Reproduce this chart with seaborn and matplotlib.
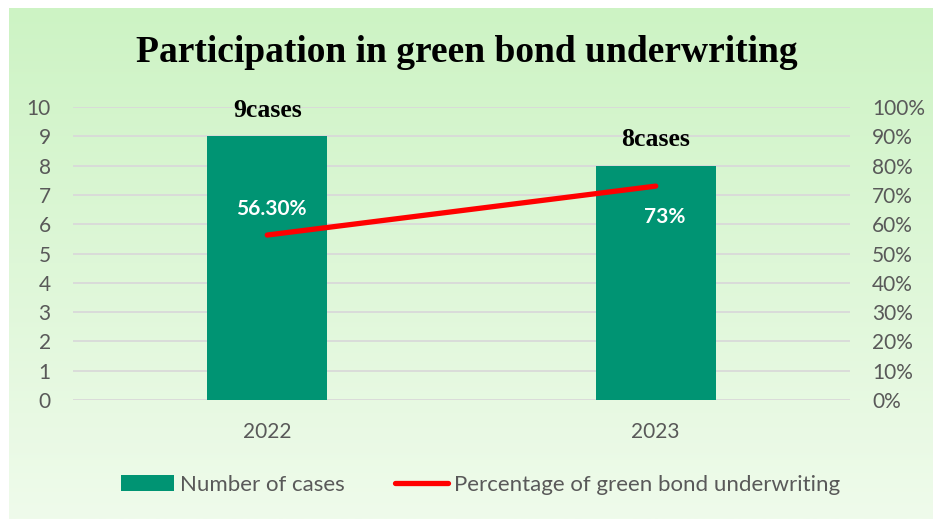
import numpy as np
import pandas as pd
import matplotlib
matplotlib.use("Agg")
import matplotlib.pyplot as plt
import seaborn as sns
from matplotlib.patches import Patch
from matplotlib.lines import Line2D

# chart data
years = ["2022", "2023"]
cases = [9, 8]
pct = [56.3, 73.0]
case_labels = ["9cases", "8cases"]
pct_labels = ["56.30%", "73%"]

BAR = "#009473"
RED = "#FF0000"
GRAY = "#595959"

sns.set_theme(style="white")
plt.rcParams["font.family"] = ["Lato", "DejaVu Sans"]

fig = plt.figure(figsize=(9.33, 5.19), dpi=100)
fig.patch.set_facecolor("white")

# gradient background panel
bg = fig.add_axes([9 / 933, 0, 1 - 9 / 933, 1 - 8 / 519])
grad = np.linspace(0, 1, 256).reshape(-1, 1)
top = np.array([0xCD, 0xF3, 0xC4]) / 255
bot = np.array([0xEF, 0xFB, 0xEB]) / 255
img = top + (bot - top) * grad[:, :, None]
bg.imshow(img, aspect="auto", extent=[0, 1, 0, 1])
bg.set_axis_off()

left, right = 73 / 933, 850 / 933
bottom, topy = 1 - 400 / 519, 1 - 107 / 519
ax = fig.add_axes([left, bottom, right - left, topy - bottom])
ax.patch.set_alpha(0)

df = pd.DataFrame({"year": years, "cases": cases, "pct": pct})
sns.barplot(data=df, x="year", y="cases", color=BAR, width=0.31,
            saturation=1, linewidth=0, ax=ax, zorder=2)
ax.set_ylim(0, 10)
ax.set_xlim(-0.5, 1.5)
ax.set_yticks(range(0, 11))
ax.yaxis.grid(True, color="#D9D9D9", linewidth=1.3, zorder=0)
ax.set_axisbelow(True)
for s in ax.spines.values():
    s.set_visible(False)
ax.set_xlabel("")
ax.set_ylabel("")
ax.tick_params(axis="both", length=0, labelsize=15, colors=GRAY, pad=16)

for i, lab in enumerate(case_labels):
    ax.text(i, cases[i] + 0.88, lab, ha="center", va="center",
            fontsize=18.5, fontweight="bold", family="Liberation Serif",
            color="black")

ax2 = ax.twinx()
ax2.set_ylim(0, 100)
ax2.set_yticks(range(0, 101, 10))
ax2.set_yticklabels([f"{v}%" for v in range(0, 101, 10)])
sns.lineplot(x=[0, 1], y=pct, ax=ax2, color=RED, linewidth=3.8,
             solid_capstyle="round", zorder=3)
for s in ax2.spines.values():
    s.set_visible(False)
ax2.tick_params(axis="y", length=0, labelsize=15, colors=GRAY, pad=16)
ax2.grid(False)

ax2.text(0.01, 65.3, pct_labels[0], ha="center", va="center", fontsize=15,
         fontweight="bold", color="white")
ax2.text(1.023, 62.5, pct_labels[1], ha="center", va="center", fontsize=15,
         fontweight="bold", color="white")

fig.text(0.5, 1 - 53 / 519, "Participation in green bond underwriting",
         ha="center", va="center", fontsize=27, fontweight="bold",
         family="Liberation Serif", color="black")

handles = [Patch(facecolor=BAR, edgecolor="none", label="Number of cases"),
           Line2D([0], [0], color=RED, linewidth=3.8, solid_capstyle="round",
                  label="Percentage of green bond underwriting")]
fig.legend(handles=handles, loc="center", bbox_to_anchor=(0.515, 1 - 485 / 519),
           ncol=2, frameon=False, fontsize=16, labelcolor=GRAY,
           handlelength=2.35, handletextpad=0.27, columnspacing=2.3)

fig.savefig("out.png", dpi=100)
